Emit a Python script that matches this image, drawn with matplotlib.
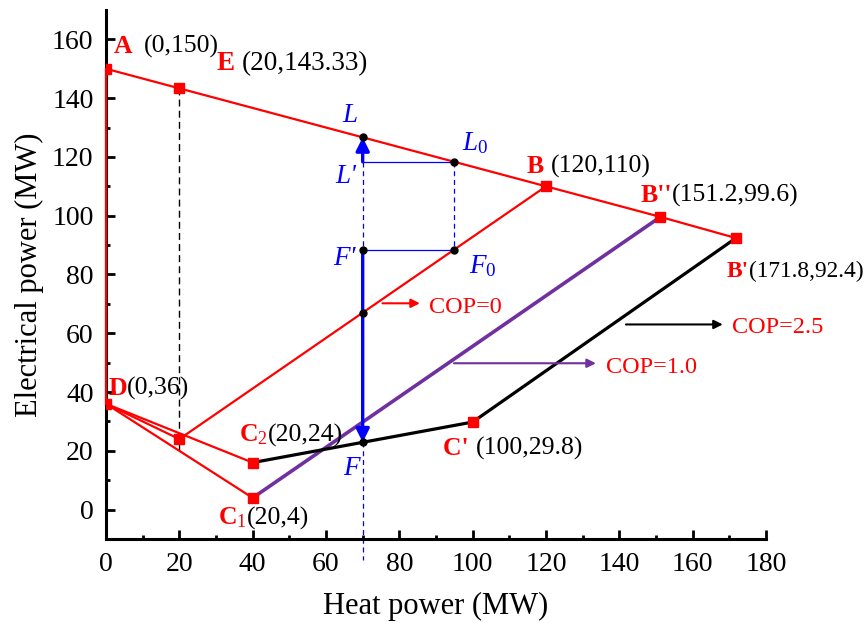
import matplotlib
matplotlib.use('Agg')
import matplotlib.pyplot as plt

plt.rcParams['font.family'] = ['Liberation Serif', 'DejaVu Serif']
plt.rcParams['mathtext.fontset'] = 'custom'
plt.rcParams['mathtext.rm'] = 'Liberation Serif'
plt.rcParams['mathtext.it'] = 'Liberation Serif:italic'
plt.rcParams['mathtext.bf'] = 'Liberation Serif:bold'

# ---- data (MW) ----
top_x = [0, 20, 120, 151.2, 171.8]          # A, E, B, B'', B'
top_y = [150, 143.33, 110, 99.6, 92.4]
left_x = [0, 0]                              # A -> D
left_y = [150, 36]
cop0_x = [0, 20, 120]                        # D -> (20,24) -> B
cop0_y = [36, 24, 110]
d_c2_x = [0, 40]
d_c2_y = [36, 16]
d_c1_x = [0, 40]
d_c1_y = [36, 4]
cop1_x = [40, 151.2]                         # C1 -> B''
cop1_y = [4, 99.6]
cop25_x = [40, 100, 171.8]                   # C2 -> C' -> B'
cop25_y = [16, 29.8, 92.4]
sq_x = [0, 20, 120, 151.2, 171.8, 0, 20, 40, 40, 100]
sq_y = [150, 143.33, 110, 99.6, 92.4, 36, 24, 16, 4, 29.8]
dot_x = [70, 95, 70, 95, 70, 70]             # L, L0, F', F0, COP=0 point, F
dot_y = [126.67, 118.33, 88.5, 88.5, 67, 22.9]

x_ticks = [0, 20, 40, 60, 80, 100, 120, 140, 160, 180]
y_ticks = [0, 20, 40, 60, 80, 100, 120, 140, 160]

red = '#ff0000'
blue = '#0000ff'
purple = '#7030a0'

fig = plt.figure(figsize=(8.64, 6.23), dpi=100)
ax = fig.add_axes([0.1227, 0.1348, 0.7639, 0.8492])

# main lines
ax.plot(cop1_x, cop1_y, color=purple, lw=2.6, zorder=3, solid_capstyle='butt')
ax.plot(cop25_x, cop25_y, color='black', lw=2.3, zorder=3)
ax.plot(top_x, top_y, color=red, lw=1.6, zorder=4)
ax.plot(left_x, left_y, color=red, lw=1.6, zorder=4, clip_on=False)
ax.plot(cop0_x, cop0_y, color=red, lw=1.6, zorder=4)
ax.plot(d_c2_x, d_c2_y, color=red, lw=1.6, zorder=4)
ax.plot(d_c1_x, d_c1_y, color=red, lw=1.6, zorder=4)

# dashed guides
ax.plot([20, 20], [143.33, 20], color='black', lw=1, ls=(0, (5, 3)), zorder=2)
ax.plot([70, 70], [118.33, 88.5], color=blue, lw=0.9, ls=(0, (4, 3)), zorder=2)
ax.plot([70, 70], [22.9, -17], color=blue, lw=0.9, ls=(0, (4, 3)), zorder=2, clip_on=False)
ax.plot([95, 95], [118.33, 88.5], color=blue, lw=0.9, ls=(0, (4, 3)), zorder=2)
ax.plot([70, 95], [118.33, 118.33], color=blue, lw=0.9, zorder=2)
ax.plot([70, 95], [88.5, 88.5], color=blue, lw=0.9, zorder=2)

# blue thick arrows
ax.annotate('', xy=(70, 126.67), xytext=(70, 118.33),
            arrowprops=dict(arrowstyle='-|>', color=blue, lw=2.4, mutation_scale=20,
                            shrinkA=0, shrinkB=0), zorder=5)
ax.annotate('', xy=(70, 22.9), xytext=(70, 88.5),
            arrowprops=dict(arrowstyle='-|>', color=blue, lw=2.4, mutation_scale=20,
                            shrinkA=0, shrinkB=0), zorder=5)

# markers
ax.plot(sq_x, sq_y, 's', color=red, ms=7.5, zorder=6)
ax.plot(dot_x, dot_y, 'o', color='black', ms=5, zorder=7)

# COP arrows + labels
ax.annotate('', xy=(85.6, 70.2), xytext=(75.4, 70.2),
            arrowprops=dict(arrowstyle='-|>', color=red, lw=1.5, mutation_scale=13,
                            shrinkA=0, shrinkB=0))
ax.annotate('', xy=(133.6, 49.8), xytext=(94.9, 49.8),
            arrowprops=dict(arrowstyle='-|>', color=purple, lw=1.5, mutation_scale=13,
                            shrinkA=0, shrinkB=0))
ax.annotate('', xy=(168.2, 63), xytext=(141.8, 63),
            arrowprops=dict(arrowstyle='-|>', color='black', lw=1.5, mutation_scale=13,
                            shrinkA=0, shrinkB=0))
ax.text(88.1, 66.8, 'COP=0', color=red, fontsize=17.5, va='baseline')
ax.text(136.3, 46.4, 'COP=1.0', color=red, fontsize=17.5, va='baseline')
ax.text(170.8, 60, 'COP=2.5', color=red, fontsize=17.5, va='baseline', clip_on=False)

# point labels: red bold name + black coordinates
def label(x, y, name, coords, size=18.5):
    t = ax.text(x, y, name, color=red, fontsize=size, fontweight='bold', va='baseline')
    ax.annotate(coords, xy=(1, 0), xycoords=t, fontsize=size, color='black',
                va='bottom', ha='left')

label(2.2, 155.2, 'A  ', '(0,150)')
label(30.3, 149.5, 'E ', '(20,143.33)', 19.5)
label(114.9, 114.7, 'B ', '(120,110)')
label(145.7, 104.7, "B''", '(151.2,99.6)')
label(169.2, 79.2, "B'", '(171.8,92.4)', 16.8)
label(92.0, 18.7, "C' ", '(100,29.8)')
label(0.6, 39.0, 'D', '(0,36)')
label(36.4, 23.2, r'$\mathbf{C}_{2}$', '(20,24)')
label(30.5, -4.9, r'$\mathbf{C}_{1}$', '(20,4)')

# blue italic point names
blab = dict(color=blue, fontsize=19.5, style='italic', va='baseline')
ax.text(64.4, 131.9, 'L', **blab)
ax.text(97.2, 122.3, r'$\mathit{L}_{\mathit{0}}$', color=blue, fontsize=19.5, va='baseline')
ax.text(62.6, 111.0, "L'", **blab)
ax.text(61.9, 83.2, "F'", **blab)
ax.text(99.0, 80.4, r'$\mathit{F}_{\mathit{0}}$', color=blue, fontsize=19.5, va='baseline')
ax.text(64.8, 11.9, 'F', **blab)

# axes styling
ax.set_xlim(0, 180)
ax.set_ylim(-10, 170)
ax.spines['top'].set_visible(False)
ax.spines['right'].set_visible(False)
ax.spines['left'].set_linewidth(2.2)
ax.spines['bottom'].set_linewidth(2.2)
ax.set_xticks(x_ticks)
ax.set_yticks(y_ticks)
ax.set_xticks(range(10, 180, 20), minor=True)
ax.set_yticks(range(-10, 170, 20), minor=True)
ax.tick_params(which='major', direction='in', length=6.5, width=2, labelsize=20)
ax.tick_params(which='minor', direction='in', length=3, width=2)
ax.tick_params(axis='y', which='major', pad=9)
ax.tick_params(axis='x', which='major', pad=9)
ax.set_xlabel('Heat power (MW)', fontsize=22, labelpad=11)
ax.set_ylabel('Electrical power (MW)', fontsize=22, labelpad=6)

fig.savefig('out.png', dpi=100)
